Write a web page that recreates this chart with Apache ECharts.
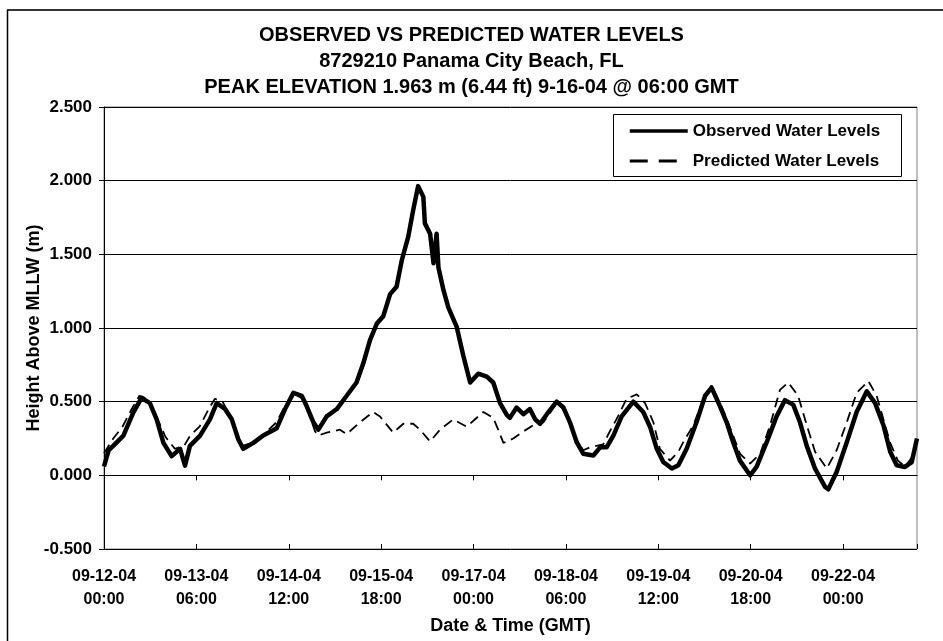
<!DOCTYPE html>
<html>
<head>
<meta charset="utf-8">
<script src="https://cdn.jsdelivr.net/npm/echarts@6/dist/echarts.min.js"></script>
<style>
html,body{margin:0;padding:0;background:#fff;}
#chart{width:943px;height:641px;}
</style>
</head>
<body>
<div id="chart"></div>
<script>
// ---- data (hours since 09-12-04 00:00 GMT, height in m above MLLW) ----
var titleLines = [
  'OBSERVED VS PREDICTED WATER LEVELS',
  '8729210 Panama City Beach, FL',
  'PEAK ELEVATION 1.963 m (6.44 ft) 9-16-04 @ 06:00 GMT'
];
var seriesNames = ['Observed Water Levels', 'Predicted Water Levels'];
var xTickLabels = ['09-12-04\n00:00','09-13-04\n06:00','09-14-04\n12:00','09-15-04\n18:00','09-17-04\n00:00','09-18-04\n06:00','09-19-04\n12:00','09-20-04\n18:00','09-22-04\n00:00'];
var yTickLabels = ['-0.500','0.000','0.500','1.000','1.500','2.000','2.500'];

var obsHours = [0,1.5,3,6.3,9.5,12.2,14.9,17.1,19.3,22,24.7,26.3,27.9,31.2,34.4,36.6,39.3,41.5,43.6,45.2,48.5,51.7,56.1,58.8,61.5,64.2,65.8,68,69.6,72.3,75.6,78.8,82,84.2,86.4,88.6,90.7,92.9,95,96.7,98.8,100.4,102,103.7,104.2,105.9,107,108,108.6,110.2,111.8,114.5,116.7,118.9,121.5,124.3,126.4,128.6,130.8,131.8,134,136.2,138.3,140,141.6,143.8,147,149.2,151.3,153.5,155.6,158.9,161.1,163.2,165.4,168.1,171.9,175.1,177.3,179.5,181.6,184.4,186.5,189.2,192.4,195.2,197.3,200,202.2,204.3,206.5,209.8,211.9,215.2,218.4,221.1,223.8,226,228.2,230.9,234.1,235.2,237.9,241.2,244.4,247.7,250.4,253.1,255.3,257.4,260.1,262.3,264];
var obsValues = [0.06,0.17,0.20,0.27,0.425,0.526,0.49,0.38,0.22,0.13,0.18,0.066,0.20,0.27,0.38,0.49,0.45,0.38,0.245,0.18,0.22,0.27,0.32,0.45,0.56,0.54,0.47,0.36,0.31,0.40,0.45,0.54,0.63,0.76,0.92,1.03,1.08,1.23,1.28,1.46,1.62,1.80,1.963,1.89,1.71,1.64,1.44,1.64,1.41,1.26,1.14,1.01,0.81,0.63,0.69,0.67,0.63,0.49,0.41,0.39,0.46,0.415,0.45,0.38,0.35,0.415,0.50,0.46,0.36,0.225,0.147,0.135,0.19,0.19,0.27,0.40,0.50,0.43,0.33,0.18,0.09,0.046,0.068,0.18,0.36,0.54,0.595,0.47,0.36,0.225,0.10,0.00,0.057,0.225,0.40,0.51,0.48,0.36,0.20,0.045,-0.077,-0.095,0.023,0.225,0.43,0.57,0.49,0.34,0.16,0.068,0.057,0.09,0.25];

var predHours = [0,3,6,9,11.5,14,17,20,23,26,28,31,34,36,38.5,41,43,45,48,52,56,59,62,64.5,66.5,68.5,69.6,72.3,76.6,78.8,83.1,87.4,89.6,93.9,97.2,100.4,102.6,105.9,109.1,113.4,117.8,119.4,123.2,126.4,128,129.7,132.9,135.6,139.4,142.7,147,149.2,151.3,153.5,155.6,157.8,162.1,164.3,166.9,169.7,173,175.7,178.4,180.5,183.8,186.5,188.1,191.4,194.7,197.3,201.1,204.3,206.5,209.8,213.1,216.3,219.5,222.2,225.4,228.2,230.9,234.7,237.9,241.2,244.4,248.2,250.9,253.1,255.3,257.8,260.1,262.3,264];
var predValues = [0.15,0.25,0.33,0.45,0.54,0.52,0.40,0.26,0.18,0.20,0.27,0.33,0.45,0.52,0.50,0.40,0.28,0.20,0.22,0.28,0.36,0.48,0.55,0.52,0.42,0.30,0.27,0.29,0.31,0.28,0.36,0.43,0.40,0.29,0.35,0.35,0.31,0.23,0.31,0.38,0.33,0.36,0.43,0.39,0.31,0.22,0.25,0.29,0.34,0.36,0.49,0.45,0.36,0.24,0.17,0.19,0.21,0.30,0.40,0.52,0.55,0.49,0.36,0.18,0.10,0.16,0.225,0.34,0.52,0.61,0.44,0.27,0.147,0.08,0.147,0.34,0.58,0.63,0.54,0.34,0.16,0.046,0.17,0.36,0.56,0.64,0.54,0.38,0.22,0.10,0.06,0.12,0.25];

function zip(a, b) { return a.map(function (v, i) { return [v, b[i]]; }); }

var FONT = '"Liberation Sans", Arial, sans-serif';
var chart = echarts.init(document.getElementById('chart'), null, {renderer: 'canvas'});
chart.setOption({
  animation: false,
  backgroundColor: '#fff',
  title: {
    text: titleLines.join('\n'),
    left: 'center', top: 17,
    textStyle: {fontFamily: FONT, fontWeight: 'bold', fontSize: 20, lineHeight: 26, color: '#000'}
  },
  grid: {
    left: 104, right: 26, top: 107, bottom: 92,
    show: true, borderColor: '#808080', borderWidth: 1, backgroundColor: '#fff'
  },
  legend: {
    left: 628, top: 121, padding: 0, orient: 'vertical', itemGap: 10, itemWidth: 58, itemHeight: 20,
    data: [
      {name: seriesNames[0], lineStyle: {width: 3.5, type: 'solid', color: '#000'}},
      {name: seriesNames[1], lineStyle: {width: 3, type: [18, 11], color: '#000'}}
    ],
    selectedMode: false, z: 20,
    itemStyle: {color: 'rgba(0,0,0,0)', borderColor: 'rgba(0,0,0,0)', borderWidth: 0, opacity: 0},
    textStyle: {fontFamily: FONT, fontWeight: 'bold', fontSize: 17, lineHeight: 20, color: '#000'}
  },
  graphic: [
    {type: 'rect', z: 15, shape: {x: 613.5, y: 114.5, width: 288, height: 62}, style: {fill: '#fff', stroke: '#000', lineWidth: 1}},
    {type: 'line', z: 15, shape: {x1: 7, y1: 10, x2: 943, y2: 10}, style: {stroke: '#333', lineWidth: 2}},
    {type: 'line', z: 15, shape: {x1: 7.5, y1: 10, x2: 7.5, y2: 641}, style: {stroke: '#000', lineWidth: 1.5}}
  ],
  xAxis: [{
    type: 'value', position: 'bottom', min: 0, max: 264, interval: 30,
    name: 'Date & Time (GMT)', nameLocation: 'middle', nameGap: 68, nameMoveOverlap: false,
    nameTextStyle: {fontFamily: FONT, fontWeight: 'bold', fontSize: 18, color: '#000'},
    axisLine: {show: true, lineStyle: {color: '#000', width: 1}},
    axisTick: {show: true, inside: false, length: 5, lineStyle: {color: '#000'}},
    splitLine: {show: false},
    axisLabel: {
      showMaxLabel: false, margin: 16, lineHeight: 23,
      fontFamily: FONT, fontWeight: 'bold', fontSize: 16, color: '#000',
      formatter: function (v) { var i = Math.round(v / 30); return (v % 30 === 0 && xTickLabels[i]) ? xTickLabels[i] : ''; }
    }
  }, {
    type: 'value', position: 'bottom', offset: 0, min: 0, max: 264, interval: 30,
    axisLine: {show: false}, axisLabel: {show: false}, splitLine: {show: false},
    axisTick: {show: true, inside: true, length: 5, lineStyle: {color: '#000'}}
  }],
  yAxis: {
    type: 'value', min: -0.5, max: 2.5, interval: 0.5,
    name: 'Height Above MLLW (m)', nameLocation: 'middle', nameGap: 61, nameRotate: 90, nameMoveOverlap: false,
    nameTextStyle: {fontFamily: FONT, fontWeight: 'bold', fontSize: 18, color: '#000'},
    axisLine: {show: true, lineStyle: {color: '#000', width: 1}},
    axisTick: {show: true, inside: false, length: 5, lineStyle: {color: '#000'}},
    splitLine: {show: true, lineStyle: {color: '#000', width: 1}},
    axisLabel: {
      margin: 12, fontFamily: FONT, fontWeight: 'bold', fontSize: 17, color: '#000',
      formatter: function (v) { var i = Math.round((v + 0.5) / 0.5); return yTickLabels[i] || ''; }
    }
  },
  series: [{
    name: seriesNames[0], type: 'line', xAxisIndex: 0, z: 4,
    data: zip(obsHours, obsValues), showSymbol: false, symbol: 'none',
    lineStyle: {color: '#000', width: 4.5, join: 'round'},
    itemStyle: {color: '#000'}
  }, {
    name: seriesNames[1], type: 'line', xAxisIndex: 0, z: 3,
    data: zip(predHours, predValues), showSymbol: false, symbol: 'none',
    lineStyle: {color: '#000', width: 1.8, type: [10, 6]},
    itemStyle: {color: '#000'}
  }]
});
</script>
</body>
</html>
